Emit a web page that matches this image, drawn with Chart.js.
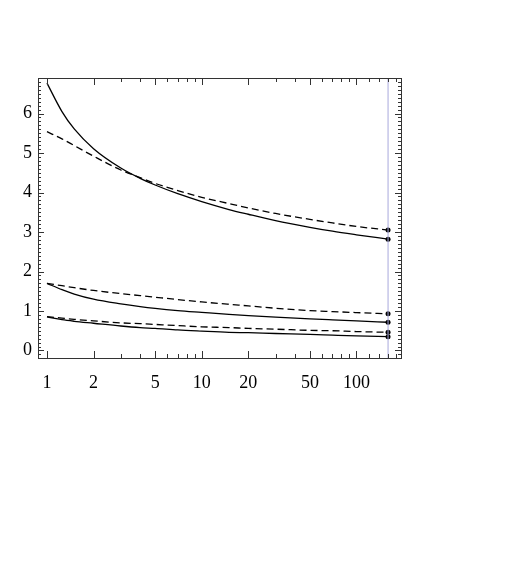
<!DOCTYPE html>
<html>
<head>
<meta charset="utf-8">
<script src="https://cdn.jsdelivr.net/npm/chart.js@4.4.0/dist/chart.umd.min.js"></script>
<style>
  body { margin: 0; background: #fff; }
  #wrap { width: 522px; height: 570px; }
</style>
</head>
<body>
<div id="wrap"><canvas id="chart" width="522" height="570"></canvas></div>
<script>
// x positions (log scale) and curve values
var xs = [1, 1.25, 1.5, 2, 3, 4, 5, 7, 10, 15, 20, 30, 50, 70, 100, 160];

var topSolid    = [6.77, 6.05, 5.61, 5.11, 4.62, 4.36, 4.19, 3.97, 3.77, 3.57, 3.45, 3.29, 3.12, 3.02, 2.93, 2.82];
var topDashed   = [5.54, 5.36, 5.19, 4.92, 4.57, 4.38, 4.23, 4.05, 3.88, 3.72, 3.61, 3.47, 3.32, 3.23, 3.14, 3.05];
var midSolid    = [1.70, 1.54, 1.43, 1.30, 1.18, 1.11, 1.065, 1.01, 0.965, 0.915, 0.885, 0.845, 0.80, 0.775, 0.75, 0.715];
var midDashed   = [1.70, 1.64, 1.59, 1.52, 1.44, 1.39, 1.35, 1.29, 1.23, 1.17, 1.13, 1.07, 1.01, 0.985, 0.96, 0.93];
var lowSolid    = [0.85, 0.78, 0.74, 0.69, 0.62, 0.58, 0.56, 0.52, 0.49, 0.46, 0.45, 0.43, 0.41, 0.39, 0.37, 0.35];
var lowDashed   = [0.86, 0.82, 0.79, 0.75, 0.70, 0.68, 0.66, 0.63, 0.60, 0.58, 0.56, 0.54, 0.51, 0.50, 0.48, 0.46];

var markerX = 160;
var xTicks = [1, 2, 5, 10, 20, 50, 100];
var xMinor = [3, 4, 6, 7, 8, 9, 30, 40, 60, 70, 80, 90, 120, 140, 160, 180];
var yTicks = [0, 1, 2, 3, 4, 5, 6];

function pts(ys) {
    var out = [];
    for (var i in xs) out.push({x: xs[i], y: ys[i]});
    return out;
}

function series(ys, dashed) {
    return {
        data: pts(ys),
        borderColor: '#000',
        backgroundColor: '#000',
        borderWidth: 1.3,
        borderDash: dashed ? [7, 4] : [],
        cubicInterpolationMode: 'monotone',
        pointRadius: function(ctx) { return ctx.dataIndex === xs.length - 1 ? 2.5 : 0; },
        pointBorderWidth: 0,
        fill: false
    };
}

// frame with inward ticks on all four sides
var frameTicks = {
    id: 'frameTicks',
    afterDatasetsDraw: function(chart) {
        var c = chart.ctx, a = chart.chartArea;
        var sx = chart.scales.x, sy = chart.scales.y;
        c.save();
        c.strokeStyle = '#333';
        c.lineWidth = 1;
        c.beginPath();
        xTicks.forEach(function(v) {
            var p = Math.round(sx.getPixelForValue(v)) + 0.5;
            c.moveTo(p, a.bottom); c.lineTo(p, a.bottom - 7);
            c.moveTo(p, a.top); c.lineTo(p, a.top + 7);
        });
        xMinor.forEach(function(v) {
            var p = Math.round(sx.getPixelForValue(v)) + 0.5;
            c.moveTo(p, a.bottom); c.lineTo(p, a.bottom - 4);
            c.moveTo(p, a.top); c.lineTo(p, a.top + 4);
        });
        for (var k = -1; k <= 69; k++) {
            var v = k / 10;
            var p = Math.round(sy.getPixelForValue(v)) + 0.5;
            if (p < a.top || p > a.bottom) continue;
            var len = (k % 10 === 0) ? 6 : 3;
            c.moveTo(a.left, p); c.lineTo(a.left + len, p);
            c.moveTo(a.right, p); c.lineTo(a.right - len, p);
        }
        c.stroke();
        c.strokeRect(Math.round(a.left) + 0.5, Math.round(a.top) + 0.5,
                     Math.round(a.right - a.left), Math.round(a.bottom - a.top));
        c.restore();
    }
};

var ctx = document.getElementById('chart');
var myChart = new Chart(ctx, {
    type: 'line',
    data: {
        datasets: [
            {
                data: [{x: markerX, y: -1}, {x: markerX, y: 8}],
                borderColor: '#a8a8dc',
                borderWidth: 1,
                pointRadius: 0,
                fill: false
            },
            series(topSolid, false),
            series(topDashed, true),
            series(midSolid, false),
            series(midDashed, true),
            series(lowSolid, false),
            series(lowDashed, true)
        ]
    },
    options: {
        responsive: false,
        animation: false,
        layout: { padding: { left: 0, top: 78, right: 121, bottom: 172 } },
        plugins: { legend: { display: false }, tooltip: { enabled: false } },
        scales: {
            x: {
                type: 'logarithmic',
                min: 0.875,
                max: 194,
                grid: { display: false, drawTicks: false },
                border: { display: false },
                afterBuildTicks: function(scale) {
                    scale.ticks = xTicks.map(function(v) { return {value: v}; });
                },
                afterFit: function(scale) { scale.height = 40; },
                ticks: {
                    autoSkip: false,
                    maxRotation: 0,
                    padding: 14,
                    color: '#000',
                    font: { family: "'Liberation Serif', 'Times New Roman', serif", size: 18 },
                    callback: function(v) { return String(v); }
                }
            },
            y: {
                type: 'linear',
                min: -0.19,
                max: 6.9,
                grid: { display: false, drawTicks: false },
                border: { display: false },
                afterBuildTicks: function(scale) {
                    scale.ticks = yTicks.map(function(v) { return {value: v}; });
                },
                afterFit: function(scale) { scale.width = 38; },
                ticks: {
                    padding: 6,
                    color: '#000',
                    font: { family: "'Liberation Serif', 'Times New Roman', serif", size: 18 },
                    callback: function(v) { return String(v); }
                }
            }
        }
    },
    plugins: [frameTicks]
});
</script>
</body>
</html>
